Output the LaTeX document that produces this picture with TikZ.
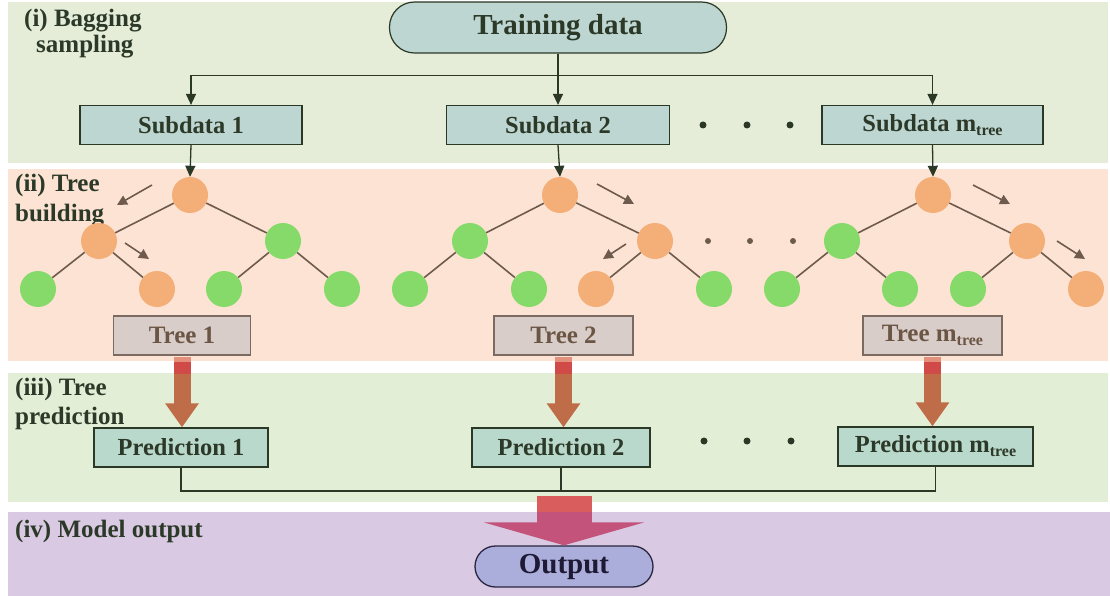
\documentclass[tikz,border=0pt]{standalone}
\usepackage{fontspec}
\setmainfont{Liberation Serif}
\usetikzlibrary{arrows.meta,calc}
\definecolor{bandA}{HTML}{E5EDD9}
\definecolor{bandB}{HTML}{FCE3D3}
\definecolor{bandC}{HTML}{E2EFD6}
\definecolor{bandD}{HTML}{D9C9E3}
\definecolor{tealfill}{HTML}{BDD6D1}
\definecolor{predfill}{HTML}{B9D9CC}
\definecolor{darkline}{HTML}{2B3826}
\definecolor{darktext}{HTML}{2C3928}
\definecolor{treefill}{HTML}{D9CDC9}
\definecolor{treeline}{HTML}{7A6A62}
\definecolor{treetext}{HTML}{6B5545}
\definecolor{edgebrown}{HTML}{6E5B4E}
\definecolor{orangenode}{HTML}{F4AE77}
\definecolor{greennode}{HTML}{86DA6A}
\definecolor{arrowbrown}{HTML}{BF6D48}
\definecolor{arrowred}{HTML}{D04B47}
\definecolor{arrowpink}{HTML}{E2907C}
\definecolor{outarrow}{HTML}{C3537A}
\definecolor{outarrowtop}{HTML}{D95D5C}
\definecolor{outfill}{HTML}{ABADDB}
\definecolor{outline}{HTML}{2A2540}
\definecolor{outtext}{HTML}{1E1A35}
\newcommand{\mtree}{m\raisebox{-0.35ex}{\fontsize{16}{16}\selectfont tree}}
\begin{document}
\begin{tikzpicture}[x=1pt,y=-1pt,
  bandlabel/.style={anchor=base west,inner sep=0pt,text=darktext,font=\bfseries\fontsize{25}{28}\selectfont},
  subbox/.style={draw=darkline,line width=1.2pt,fill=tealfill,minimum height=39pt,inner sep=0pt,text=darktext,font=\bfseries\fontsize{24.5}{26}\selectfont},
  predbox/.style={subbox,fill=predfill},
  treebox/.style={draw=treeline,line width=1.2pt,fill=treefill,minimum height=39pt,inner sep=0pt,text=treetext,font=\bfseries\fontsize{25}{26}\selectfont},
  onode/.style={circle,fill=orangenode,minimum size=36pt,inner sep=0pt},
  gnode/.style={circle,fill=greennode,minimum size=36pt,inner sep=0pt},
  tedge/.style={draw=edgebrown,line width=1.6pt},
  tarrow/.style={draw=edgebrown,line width=1.6pt,-{Triangle[length=10pt,width=10pt]}},
  darr/.style={draw=darkline,line width=1.3pt,-{Triangle[length=11pt,width=10pt]}},
  pline/.style={draw=darkline,line width=1.3pt},
  bigarrow/.style={draw=arrowbrown,line width=17pt,-{Triangle[length=24pt,width=32pt]}},
  dotA/.style={circle,fill=darkline,minimum size=7pt,inner sep=0pt},
  dotB/.style={circle,fill=edgebrown,minimum size=6pt,inner sep=0pt}
]
\useasboundingbox (0,0) rectangle (1110,596);
\fill[white] (0,0) rectangle (1110,596);
% bands
\fill[bandA] (8,2) rectangle (1108,163);
\fill[bandB] (8,169) rectangle (1108,361);
\fill[bandC] (8,373) rectangle (1108,502);
\fill[bandD] (8,512) rectangle (1110,596);
% band labels
\node[bandlabel] (l1a) at (24,27) {(i) Bagging};
\node[bandlabel] (l1b) at (36,53) {sampling};
\node[bandlabel] (l2a) at (15,192) {(ii) Tree};
\node[bandlabel] (l2b) at (15,221) {building};
\node[bandlabel] (l3a) at (15,395) {(iii) Tree};
\node[bandlabel] (l3b) at (15,424) {prediction};
\node[bandlabel] (l4) at (15,537) {(iv) Model output};
% training data
\node[subbox,rounded corners=25pt,minimum width=337pt,minimum height=51pt,font=\bfseries\fontsize{29}{31}\selectfont] (train) at (558,27.5) {Training data};
% subdata
\node[subbox,minimum width=222pt] (s1) at (191,125) {Subdata 1};
\node[subbox,minimum width=223pt] (s2) at (558,125) {Subdata 2};
\node[subbox,minimum width=221pt] (sm) at (932.5,125) {Subdata \mtree};
\draw[darr] (train.south) -- (s2.north);
\draw[darr] (train.south) -- ++(0,22) -| (s1.north);
\draw[darr] (train.south) -- ++(0,22) -| (sm.north);
\node[dotA] (da1) at (703,125) {};
\node[dotA] (da2) at (747,125) {};
\node[dotA] (da3) at (790,125) {};
% tree 1
\node[onode] (r1) at (190,195) {};
\node[onode] (a1) at (99,241) {};
\node[gnode] (b1) at (283,241) {};
\node[gnode] (c1) at (38,289) {};
\node[onode] (d1) at (157,289) {};
\node[gnode] (e1) at (224,289) {};
\node[gnode] (f1) at (342,289) {};
\draw[tedge] (r1) -- (a1); \draw[tedge] (r1) -- (b1);
\draw[tedge] (a1) -- (c1); \draw[tedge] (a1) -- (d1);
\draw[tedge] (b1) -- (e1); \draw[tedge] (b1) -- (f1);
\coordinate (t1a) at (152,185); \coordinate (t1b) at (117,205);
\coordinate (t1c) at (125,243); \coordinate (t1d) at (149,259);
\draw[tarrow] (t1a) -- (t1b);
\draw[tarrow] (t1c) -- (t1d);
\draw[darr] (s1.south) -- (r1.north);
% tree 2
\node[onode] (r2) at (560,195) {};
\node[gnode] (a2) at (470,241) {};
\node[onode] (b2) at (655,241) {};
\node[gnode] (c2) at (410,289) {};
\node[gnode] (d2) at (529,289) {};
\node[onode] (e2) at (596,289) {};
\node[gnode] (f2) at (714,289) {};
\draw[tedge] (r2) -- (a2); \draw[tedge] (r2) -- (b2);
\draw[tedge] (a2) -- (c2); \draw[tedge] (a2) -- (d2);
\draw[tedge] (b2) -- (e2); \draw[tedge] (b2) -- (f2);
\coordinate (t2a) at (597,184); \coordinate (t2b) at (634,204);
\coordinate (t2c) at (626,244); \coordinate (t2d) at (603,259);
\draw[tarrow] (t2a) -- (t2b);
\draw[tarrow] (t2c) -- (t2d);
\draw[darr] (s2.south) -- (r2.north);
\node[dotB] (db1) at (708,241) {};
\node[dotB] (db2) at (750,241) {};
\node[dotB] (db3) at (793,241) {};
% tree m
\node[onode] (r3) at (933,195) {};
\node[gnode] (a3) at (842,241) {};
\node[onode] (b3) at (1027,241) {};
\node[gnode] (c3) at (782,289) {};
\node[gnode] (d3) at (900,289) {};
\node[gnode] (e3) at (968,289) {};
\node[onode] (f3) at (1086,289) {};
\draw[tedge] (r3) -- (a3); \draw[tedge] (r3) -- (b3);
\draw[tedge] (a3) -- (c3); \draw[tedge] (a3) -- (d3);
\draw[tedge] (b3) -- (e3); \draw[tedge] (b3) -- (f3);
\coordinate (t3a) at (973,185); \coordinate (t3b) at (1010,204);
\coordinate (t3c) at (1057,241); \coordinate (t3d) at (1085,259);
\draw[tarrow] (t3a) -- (t3b);
\draw[tarrow] (t3c) -- (t3d);
\draw[darr] (sm.south) -- (r3.north);
% tree boxes
\node[treebox,minimum width=137pt] (t1) at (182,335.5) {Tree 1};
\node[treebox,minimum width=139pt] (t2) at (563.5,335.5) {Tree 2};
\node[treebox,minimum width=139pt] (tm) at (932.5,335.5) {Tree \mtree};
% predictions
\node[predbox,minimum width=174pt] (p1) at (181,447.5) {Prediction 1};
\node[predbox,minimum width=178pt] (p2) at (561,447.5) {Prediction 2};
\node[predbox,minimum width=195pt] (pm) at (935.5,446.5) {Prediction \mtree};
\node[dotA] (dc1) at (704,441) {};
\node[dotA] (dc2) at (747,441) {};
\node[dotA] (dc3) at (791,441) {};
% thick arrows tree -> prediction
\foreach \t/\p in {t1/p1,t2/p2,tm/pm}{
  \draw[bigarrow] ($(\t.south)+(0,1.5)$) -- (\t.south |- \p.north);
  \fill[arrowpink] ($(\t.south)+(-8.5,1.5)$) rectangle ($(\t.south)+(8.5,6)$);
  \fill[arrowred] ($(\t.south)+(-8.5,6)$) rectangle ($(\t.south)+(8.5,18)$);
}
% join line
\coordinate (join) at (561,491);
\draw[pline] (p1.south) |- (join) -| (pm.south);
\draw[pline] (p2.south) -- (join);
% output
\node[draw=outline,line width=1.3pt,fill=outfill,rounded corners=20.5pt,minimum width=178pt,minimum height=41pt,inner sep=0pt,text=outtext,font=\bfseries\fontsize{29}{31}\selectfont] (out) at (564,566.5) {Output};
\coordinate (otop) at (564,496);
\draw[draw=outarrow,line width=55pt,-{Triangle[length=23pt,width=160pt]}] (otop) -- (out.north);
\fill[outarrowtop] ($(otop)+(-27.5,0)$) rectangle ($(otop)+(27.5,16)$);
\end{tikzpicture}
\end{document}
